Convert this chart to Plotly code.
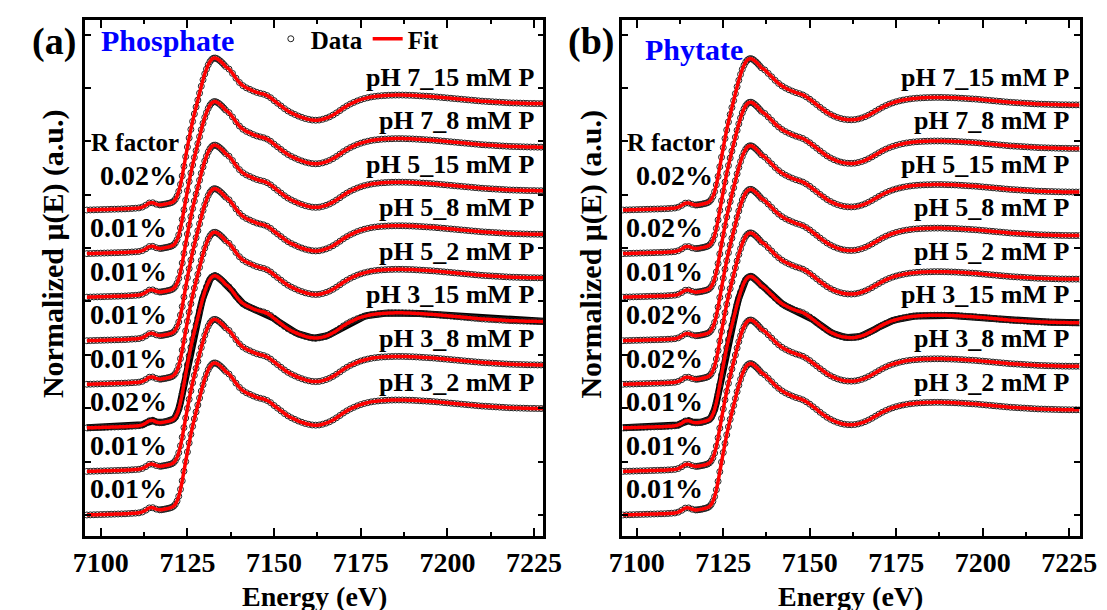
import plotly.graph_objects as go

# ---------------- data ----------------
ENERGY = [
    7096, 7097, 7098, 7099, 7100, 7101, 7102, 7103, 7104, 7105, 7106, 7107, 7108, 7109, 7110,
    7111, 7112, 7113, 7114, 7115, 7116, 7117,
    7117.5, 7118, 7118.5, 7119, 7119.5, 7120, 7120.5, 7121, 7121.5, 7122, 7122.5, 7123, 7123.5,
    7124, 7124.5, 7125, 7125.5, 7126, 7126.5, 7127, 7127.5, 7128, 7128.5, 7129, 7129.5, 7130,
    7130.5, 7131, 7131.5, 7132, 7132.5, 7133, 7133.5, 7134, 7134.5, 7135, 7135.5, 7136,
    7137, 7138, 7139, 7140, 7141, 7142, 7143, 7144, 7145, 7146,
    7147, 7148, 7149, 7150, 7151, 7152, 7153, 7154, 7155, 7156,
    7157, 7158, 7159, 7160, 7161, 7162, 7163, 7164, 7165, 7166,
    7167, 7168, 7169, 7170, 7171, 7172, 7173, 7174, 7175, 7176,
    7177, 7178, 7179, 7180, 7181, 7182, 7183, 7184, 7185, 7186,
    7187, 7188, 7189, 7190, 7191, 7192, 7193, 7194, 7195, 7196,
    7197, 7198, 7199, 7200, 7201, 7202, 7203, 7204, 7205, 7206,
    7207, 7208, 7209, 7210, 7211, 7212, 7213, 7214, 7215, 7216,
    7217, 7218, 7219, 7220, 7221, 7222, 7223, 7224, 7225, 7226,
    7227, 7228,
]

MU_PHOSPHATE = [
    0.000, 0.001, 0.002, 0.003, 0.004, 0.005, 0.006, 0.007, 0.008, 0.009, 0.010, 0.011, 0.013, 0.015, 0.017,
    0.020, 0.028, 0.045, 0.066, 0.068, 0.055, 0.048,
    0.049, 0.052, 0.055, 0.058, 0.062, 0.066, 0.072, 0.082, 0.100, 0.130, 0.175, 0.240, 0.320,
    0.410, 0.500, 0.590, 0.675, 0.755, 0.830, 0.900, 0.965, 1.030, 1.095, 1.160, 1.220, 1.275,
    1.320, 1.360, 1.390, 1.410, 1.422, 1.424, 1.418, 1.408, 1.395, 1.380, 1.363, 1.345,
    1.320, 1.280, 1.235, 1.195, 1.165, 1.145, 1.130, 1.115, 1.102, 1.093,
    1.085, 1.072, 1.052, 1.025, 1.000, 0.975, 0.950, 0.928, 0.910, 0.895,
    0.880, 0.868, 0.857, 0.849, 0.843, 0.841, 0.843, 0.850, 0.860, 0.873,
    0.890, 0.910, 0.932, 0.955, 0.975, 0.993, 1.008, 1.022, 1.034, 1.044,
    1.052, 1.059, 1.064, 1.068, 1.071, 1.073, 1.075, 1.076, 1.077, 1.077,
    1.077, 1.076, 1.075, 1.074, 1.072, 1.070, 1.068, 1.066, 1.064, 1.062,
    1.059, 1.056, 1.053, 1.050, 1.047, 1.044, 1.041, 1.038, 1.035, 1.032,
    1.029, 1.026, 1.023, 1.020, 1.018, 1.016, 1.014, 1.012, 1.010, 1.008,
    1.006, 1.004, 1.003, 1.002, 1.001, 1.000, 0.999, 0.998, 0.998, 0.997,
    0.997, 0.997,
]

MU_PHYTATE = [
    0.000, 0.001, 0.002, 0.003, 0.004, 0.005, 0.006, 0.007, 0.008, 0.009, 0.010, 0.011, 0.012, 0.014, 0.016,
    0.019, 0.027, 0.044, 0.064, 0.066, 0.054, 0.047,
    0.048, 0.050, 0.053, 0.056, 0.060, 0.064, 0.070, 0.080, 0.098, 0.128, 0.172, 0.236, 0.315,
    0.405, 0.495, 0.585, 0.670, 0.750, 0.825, 0.895, 0.960, 1.025, 1.090, 1.155, 1.215, 1.270,
    1.318, 1.356, 1.386, 1.405, 1.416, 1.418, 1.412, 1.400, 1.386, 1.370, 1.352, 1.333,
    1.312, 1.280, 1.248, 1.215, 1.186, 1.162, 1.143, 1.127, 1.113, 1.100,
    1.090, 1.078, 1.060, 1.038, 1.013, 0.988, 0.962, 0.938, 0.915, 0.896,
    0.880, 0.867, 0.857, 0.850, 0.846, 0.845, 0.847, 0.853, 0.862, 0.874,
    0.889, 0.906, 0.925, 0.944, 0.962, 0.978, 0.992, 1.004, 1.014, 1.023,
    1.030, 1.036, 1.041, 1.045, 1.048, 1.050, 1.052, 1.053, 1.054, 1.055,
    1.055, 1.055, 1.054, 1.053, 1.052, 1.051, 1.049, 1.047, 1.045, 1.043,
    1.041, 1.039, 1.036, 1.033, 1.030, 1.027, 1.024, 1.021, 1.018, 1.015,
    1.012, 1.009, 1.007, 1.005, 1.003, 1.001, 0.999, 0.997, 0.995, 0.993,
    0.992, 0.991, 0.990, 0.989, 0.988, 0.987, 0.986, 0.986, 0.985, 0.985,
    0.985, 0.985,
]

SAMPLES = ["pH 7_15 mM P", "pH 7_8 mM P", "pH 5_15 mM P", "pH 5_8 mM P",
           "pH 5_2 mM P", "pH 3_15 mM P", "pH 3_8 mM P", "pH 3_2 mM P"]
R_PHOSPHATE = ["0.02%", "0.01%", "0.01%", "0.01%", "0.01%", "0.02%", "0.01%", "0.01%"]
R_PHYTATE = ["0.02%", "0.02%", "0.01%", "0.02%", "0.02%", "0.01%", "0.01%", "0.01%"]
PANEL_TITLES = ["Phosphate", "Phytate"]
PANEL_LETTERS = ["(a)", "(b)"]
X_TICKS = [7100, 7125, 7150, 7175, 7200, 7225]
OFFSET_STEP = 0.408

assert len(ENERGY) == len(MU_PHOSPHATE) == len(MU_PHYTATE)

# ---------------- figure ----------------
W, H = 1107, 610
FONT = "Liberation Serif, Times New Roman, Times, serif"


def fx(p):
    return p / W


def fy(p):
    return 1 - p / H


def bold(size, color="black"):
    return dict(family=FONT, size=size, color=color, weight="bold")


fig = go.Figure()
panels = [
    dict(mu=MU_PHOSPHATE, r=R_PHOSPHATE, xa="x", ya="y"),
    dict(mu=MU_PHYTATE, r=R_PHYTATE, xa="x2", ya="y2"),
]

legend_done = False
annotations = []
for pi, pan in enumerate(panels):
    n = len(SAMPLES)
    for i, name in enumerate(SAMPLES):
        off = OFFSET_STEP * (n - 1 - i)
        yvals = [v + off for v in pan["mu"]]
        dense = "3_15" in name
        show = (not legend_done) and (not dense)
        fig.add_trace(go.Scatter(
            x=ENERGY, y=yvals, xaxis=pan["xa"], yaxis=pan["ya"],
            mode="lines+markers" if dense else "markers",
            line=dict(color="black", width=7),
            marker=dict(symbol="circle-open", size=6, color="#222222",
                        line=dict(width=1, color="#222222")),
            name="Data", showlegend=show, legendrank=1,
        ))
        fig.add_trace(go.Scatter(
            x=ENERGY, y=yvals, xaxis=pan["xa"], yaxis=pan["ya"],
            mode="lines", line=dict(color="#ff0000", width=3.5, shape="spline"),
            name="Fit", showlegend=show, legendrank=2,
        ))
        if show:
            legend_done = True
        # sample label
        annotations.append(dict(
            x=7225.5, y=off + 1.245, xref=pan["xa"], yref=pan["ya"],
            text=name, showarrow=False, xanchor="right", yanchor="middle",
            font=bold(26),
        ))
        # R factor labels
        if i == 0:
            annotations.append(dict(
                x=7109.8, y=off + 0.63, xref=pan["xa"], yref=pan["ya"],
                text="R factor", showarrow=False, xanchor="center", yanchor="middle",
                font=bold(25),
            ))
            ry, rx = off + 0.32, 7111
        else:
            ry, rx = off + 0.245, 7108
        annotations.append(dict(
            x=rx, y=ry, xref=pan["xa"], yref=pan["ya"],
            text=pan["r"][i], showarrow=False, xanchor="center", yanchor="middle",
            font=bold(28),
        ))

# panel letters, titles, axis titles
letter_x = [34, 586]
title_x = [151, 692]
title_y = [33, 41]
ytitle_x = [33, 586]
xcent = [(66 + 537.5) / 2, (618.6 + 1089) / 2]
for k in range(2):
    annotations.append(dict(x=fx(letter_x[k]), y=fy(34), xref="paper", yref="paper",
                            xanchor="center", yanchor="middle",
                            text=PANEL_LETTERS[k], showarrow=False, font=bold(38)))
    annotations.append(dict(x=fx(title_x[k]), y=fy(title_y[k]), xref="paper", yref="paper",
                            xanchor="center", yanchor="middle",
                            text=PANEL_TITLES[k], showarrow=False, font=bold(30, "#0000ff")))
    annotations.append(dict(x=fx(ytitle_x[k]), y=fy(246), xref="paper", yref="paper",
                            xanchor="center", yanchor="middle",
                            text="Normalized μ(E) (a.u.)", showarrow=False, textangle=-90,
                            font=bold(30)))
    annotations.append(dict(x=fx(xcent[k]), y=fy(588), xref="paper", yref="paper",
                            xanchor="center", yanchor="middle",
                            text="Energy (eV)", showarrow=False, font=bold(28)))

ydom = [fy(528), fy(12)]
xaxis_common = dict(
    tickvals=X_TICKS, ticks="inside", ticklen=8, tickwidth=2, tickcolor="black",
    showline=True, linewidth=2.5, linecolor="black", mirror="ticks",
    showgrid=False, zeroline=False,
    minor=dict(dtick=12.5, tick0=7100, ticks="inside", ticklen=4, tickwidth=1.5, tickcolor="black"),
    tickfont=bold(28),
)
yaxis_common = dict(
    range=[-0.197, 4.636], dtick=0.5, tick0=0, ticks="inside", ticklen=6, tickwidth=2,
    tickcolor="black", showticklabels=False,
    showline=True, linewidth=2.5, linecolor="black", mirror="ticks",
    showgrid=False, zeroline=False,
)

fig.update_layout(
    width=W, height=H, margin=dict(l=0, r=0, t=0, b=0),
    paper_bgcolor="white", plot_bgcolor="white",
    xaxis=dict(domain=[fx(66), fx(537.5)], range=[7095.5, 7227.7], anchor="y", **xaxis_common),
    yaxis=dict(domain=ydom, anchor="x", **yaxis_common),
    xaxis2=dict(domain=[fx(618.6), fx(1089)], range=[7095.8, 7228.0], anchor="y2", **xaxis_common),
    yaxis2=dict(domain=ydom, anchor="x2", **yaxis_common),
    annotations=annotations,
    showlegend=True,
    legend=dict(orientation="h", x=fx(257), y=fy(31), xanchor="left", yanchor="middle",
                bgcolor="rgba(0,0,0,0)", itemwidth=30, tracegroupgap=0,
                font=bold(25)),
)

fig.write_html("out.html")
